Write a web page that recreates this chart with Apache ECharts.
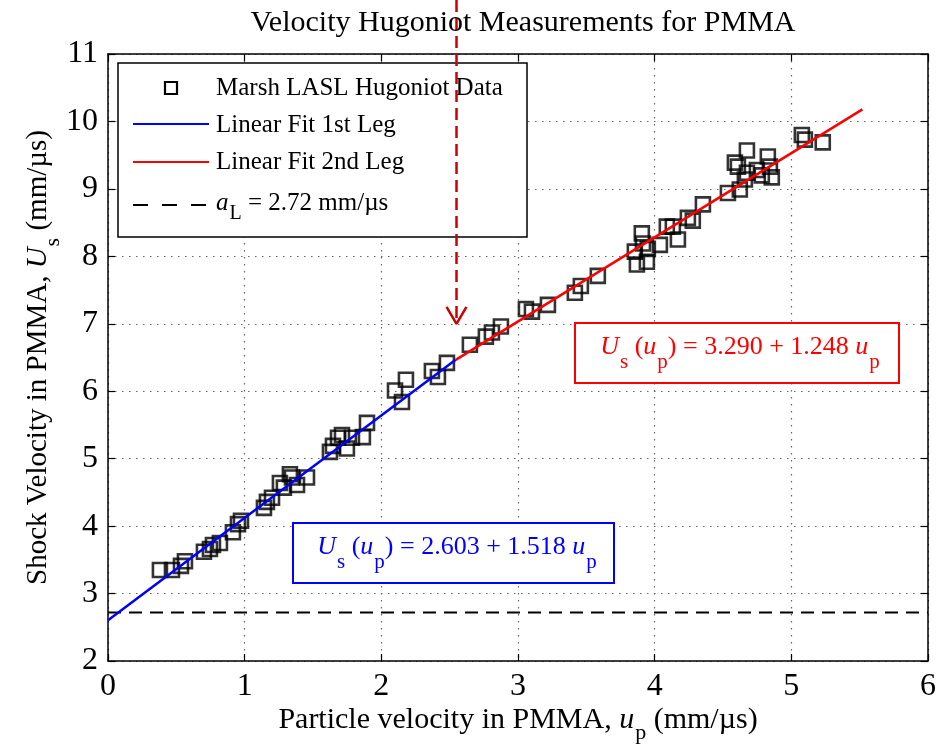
<!DOCTYPE html>
<html><head><meta charset="utf-8">
<script src="https://cdn.jsdelivr.net/npm/echarts@6/dist/echarts.min.js"></script>
<style>html,body{margin:0;padding:0;background:#fff}#c{width:944px;height:745px}</style>
</head><body><div id="c"></div>
<script>
// Marsh LASL Hugoniot data: particle velocity up (mm/µs), shock velocity Us (mm/µs)
const upData = [0.380,0.468,0.534,0.563,0.702,0.746,0.768,0.819,0.914,0.951,0.973,1.141,1.163,1.200,1.258,1.287,1.331,1.346,1.383,1.456,
  1.624,1.646,1.683,1.712,1.748,1.785,1.865,1.895,2.100,2.151,2.180,2.370,2.414,2.480,2.648,2.765,2.809,2.875,3.058,3.102,
  3.219,3.416,3.460,3.584,3.855,3.870,3.943,3.906,3.914,3.950,4.038,4.089,4.133,4.170,4.243,4.279,4.353,4.536,4.623,4.609,
  4.675,4.675,4.748,4.784,4.828,4.843,4.857,5.077,5.099,5.230,4.587,4.660];
const usData = [3.35,3.35,3.41,3.48,3.62,3.66,3.72,3.75,3.91,4.03,4.08,4.27,4.36,4.42,4.64,4.57,4.77,4.72,4.61,4.72,
  5.10,5.19,5.31,5.35,5.15,5.31,5.32,5.53,6.01,5.84,6.17,6.30,6.21,6.42,6.69,6.81,6.87,6.96,7.22,7.18,
  7.28,7.46,7.56,7.71,8.07,7.88,7.92,8.34,8.19,8.11,8.17,8.44,8.44,8.25,8.57,8.53,8.77,8.94,8.99,9.33,
  9.57,9.24,9.28,9.20,9.48,9.33,9.17,9.80,9.73,9.69,9.39,9.14];
// Linear fit endpoints
const fit1Up = [0, 2.544];
const fit1Us = [2.603, 6.465];
const fit2Up = [2.544, 5.52];
const fit2Us = [6.465, 10.179];
// longitudinal sound speed line
const aLUp = [0, 6];
const aLUs = [2.72, 2.72];
// annotation arrow (transition point)
const arrowUp = [2.55, 2.55];
const arrowUs = [11.8, 7.05];
const arrowHeadUp = [2.477, 2.55, 2.623];
const arrowHeadUs = [7.25, 7.0, 7.25];
// axis ticks
const xTicks = [0, 1, 2, 3, 4, 5, 6];
const yTicks = [2, 3, 4, 5, 6, 7, 8, 9, 10, 11];

const FONT = 'Liberation Serif';
const zip = (a, b) => a.map((v, i) => [v, b[i]]);

const chart = echarts.init(document.getElementById('c'), null, {renderer: 'canvas'});
const splitStyle = {show: true, lineStyle: {color: '#666', width: 1.2, type: [1.5, 5.5]}};
const axisCommon = {
  type: 'value', axisLine: {show: true, onZero: false, lineStyle: {color: '#000', width: 1.5}},
  axisTick: {show: true, inside: true, length: 7, lineStyle: {color: '#000', width: 1.2}},
};
const subRichX = {
  i: {fontFamily: FONT, fontSize: 30, fontStyle: 'italic', color: '#000'},
  sub: {fontFamily: FONT, fontSize: 22, color: '#000', padding: [26, 0, 0, 1]}
};
const subRichY = {
  i: {fontFamily: FONT, fontSize: 29, fontStyle: 'italic', color: '#000'},
  sub: {fontFamily: FONT, fontSize: 22, color: '#000', padding: [30, 0, 0, 1]}
};
const option = {
  animation: false,
  backgroundColor: '#fff',
  title: {
    text: 'Velocity Hugoniot Measurements for PMMA', left: 518, top: 3, textAlign: 'center',
    textStyle: {fontFamily: FONT, fontSize: 30, fontWeight: 'normal', color: '#000'}
  },
  grid: {left: 108, right: 16, top: 54, bottom: 84, containLabel: false, outerBoundsMode: 'none'},
  xAxis: [
    Object.assign({}, axisCommon, {
      min: xTicks[0], max: xTicks[xTicks.length - 1], interval: 1, position: 'bottom',
      axisLabel: {fontFamily: FONT, fontSize: 32, color: '#000', margin: 10},
      splitLine: splitStyle,
      name: 'Particle velocity in PMMA, {i|u}{sub|p} (mm/µs)', nameLocation: 'middle', nameGap: 35,
      nameMoveOverlap: false,
      nameTextStyle: {fontFamily: FONT, fontSize: 30, color: '#000', rich: subRichX}
    }),
    Object.assign({}, axisCommon, {
      min: xTicks[0], max: xTicks[xTicks.length - 1], interval: 1, position: 'top',
      axisLabel: {show: false}, splitLine: {show: false}
    })
  ],
  yAxis: [
    Object.assign({}, axisCommon, {
      min: yTicks[0], max: yTicks[yTicks.length - 1], interval: 1, position: 'left',
      axisLabel: {fontFamily: FONT, fontSize: 32, color: '#000', margin: 10},
      splitLine: splitStyle,
      name: 'Shock Velocity in PMMA, {i|U}{sub|s} (mm/µs)', nameLocation: 'middle', nameGap: 44,
      nameMoveOverlap: false,
      nameTextStyle: {fontFamily: FONT, fontSize: 29, color: '#000', rich: subRichY}
    }),
    Object.assign({}, axisCommon, {
      min: yTicks[0], max: yTicks[yTicks.length - 1], interval: 1, position: 'right',
      axisLabel: {show: false}, splitLine: {show: false}
    })
  ],
  series: [
    {type: 'line', data: zip(aLUp, aLUs), symbol: 'none', z: 2,
      lineStyle: {color: '#000', width: 2, type: [13, 8]}},
    {type: 'scatter', data: zip(upData, usData), symbol: 'rect', symbolSize: 14, z: 3,
      itemStyle: {color: 'rgba(0,0,0,0)', borderColor: '#000', borderWidth: 2.6}},
    {type: 'line', data: zip(fit1Up, fit1Us), symbol: 'none', z: 4,
      lineStyle: {color: '#0000ff', width: 2.5}},
    {type: 'line', data: zip(fit2Up, fit2Us), symbol: 'none', z: 4,
      lineStyle: {color: '#ff0000', width: 2.5}},
    {type: 'line', data: zip(arrowUp, arrowUs), symbol: 'none', z: 5, clip: false,
      lineStyle: {color: '#cc0000', width: 2.5, type: [12, 6]}},
    {type: 'line', data: zip(arrowHeadUp, arrowHeadUs), symbol: 'none', z: 5, clip: false,
      lineStyle: {color: '#cc0000', width: 2.5}}
  ],
  graphic: {elements: [
    // legend box
    {type: 'rect', z: 1, shape: {x: 118, y: 63, width: 409, height: 174},
      style: {fill: '#fff', stroke: '#000', lineWidth: 1.5}},
    {type: 'rect', z: 1, z2: 10, shape: {x: 165, y: 82, width: 12, height: 12},
      style: {fill: 'none', stroke: '#000', lineWidth: 2.2}},
    {type: 'line', z: 1, z2: 10, shape: {x1: 133, y1: 124, x2: 209, y2: 124},
      style: {stroke: '#0000ff', lineWidth: 2.2}},
    {type: 'line', z: 1, z2: 10, shape: {x1: 133, y1: 162, x2: 209, y2: 162},
      style: {stroke: '#ff0000', lineWidth: 2.2}},
    {type: 'line', z: 1, z2: 10, shape: {x1: 133, y1: 205, x2: 209, y2: 205},
      style: {stroke: '#000', lineWidth: 2.2, lineDash: [15, 14]}},
    {type: 'text', z: 1, z2: 10, x: 216, y: 88,
      style: {text: 'Marsh LASL Hugoniot Data', font: '25px "Liberation Serif"', fill: '#000', verticalAlign: 'middle'}},
    {type: 'text', z: 1, z2: 10, x: 216, y: 125,
      style: {text: 'Linear Fit 1st Leg', font: '25px "Liberation Serif"', fill: '#000', verticalAlign: 'middle'}},
    {type: 'text', z: 1, z2: 10, x: 216, y: 162,
      style: {text: 'Linear Fit 2nd Leg', font: '25px "Liberation Serif"', fill: '#000', verticalAlign: 'middle'}},
    {type: 'text', z: 1, z2: 10, x: 216, y: 203,
      style: {text: '{i|a}{sub|L}{n| = 2.72 mm/µs}', fill: '#000', verticalAlign: 'middle',
        rich: {
          i: {fontFamily: FONT, fontSize: 25, fontStyle: 'italic', fill: '#000'},
          sub: {fontFamily: FONT, fontSize: 20, fill: '#000', padding: [22, 0, 0, 1]},
          n: {fontFamily: FONT, fontSize: 25, fill: '#000'}
        }}},
    // blue equation box
    {type: 'rect', z: 1, shape: {x: 293, y: 523, width: 321, height: 60},
      style: {fill: '#fff', stroke: '#0000ff', lineWidth: 2}},
    {type: 'text', z: 1, z2: 10, x: 457, y: 547,
      style: {text: '{i|U}{sub|s}{n| (}{i|u}{sub|p}{n|) = 2.603 + 1.518 }{i|u}{sub|p}', align: 'center', verticalAlign: 'middle',
        rich: {
          i: {fontFamily: FONT, fontSize: 26, fontStyle: 'italic', fill: '#0000ff'},
          sub: {fontFamily: FONT, fontSize: 21, fill: '#0000ff', padding: [30, 0, 0, 1]},
          n: {fontFamily: FONT, fontSize: 26, fill: '#0000ff'}
        }}},
    // red equation box
    {type: 'rect', z: 1, shape: {x: 575, y: 323, width: 324, height: 60},
      style: {fill: '#fff', stroke: '#ff0000', lineWidth: 2}},
    {type: 'text', z: 1, z2: 10, x: 740, y: 347,
      style: {text: '{i|U}{sub|s}{n| (}{i|u}{sub|p}{n|) = 3.290 + 1.248 }{i|u}{sub|p}', align: 'center', verticalAlign: 'middle',
        rich: {
          i: {fontFamily: FONT, fontSize: 26, fontStyle: 'italic', fill: '#ff0000'},
          sub: {fontFamily: FONT, fontSize: 21, fill: '#ff0000', padding: [30, 0, 0, 1]},
          n: {fontFamily: FONT, fontSize: 26, fill: '#ff0000'}
        }}}
  ]}
};
chart.setOption(option);
</script>
</body></html>
